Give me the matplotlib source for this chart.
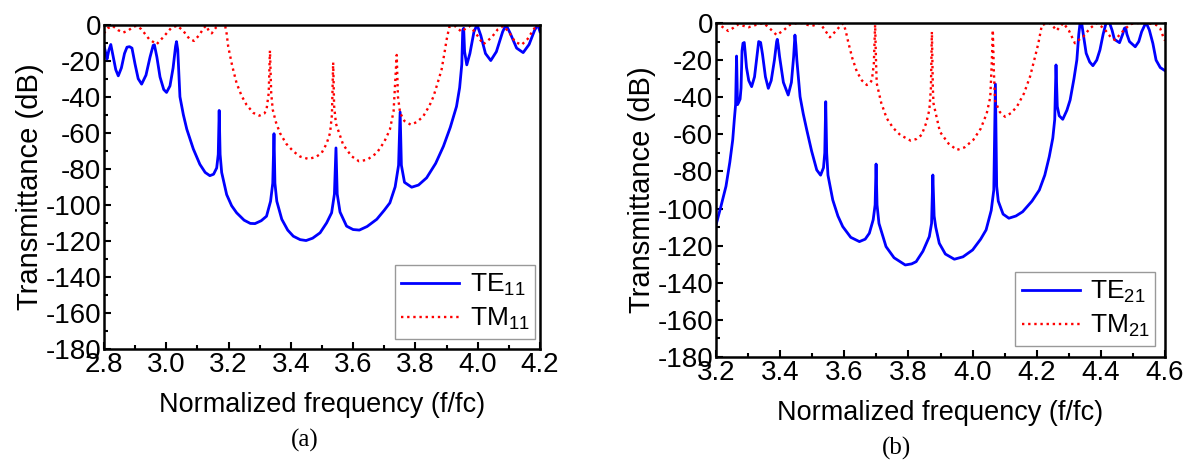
import numpy as np
from matplotlib import pyplot as plt
from matplotlib.ticker import MultipleLocator

# ---- (a) TE11 / TM11 ----
f_te11 = [2.800, 2.806, 2.810, 2.816, 2.822, 2.830, 2.838, 2.846, 2.856, 2.866,
          2.874, 2.882, 2.890, 2.900, 2.910, 2.921, 2.935, 2.948, 2.958, 2.962,
          2.970, 2.980, 2.992, 3.001, 3.012, 3.022, 3.030, 3.033, 3.037, 3.044,
          3.055, 3.066, 3.087, 3.108, 3.125, 3.140, 3.152, 3.162, 3.167, 3.170,
          3.173, 3.178, 3.194, 3.210, 3.226, 3.250, 3.270, 3.285, 3.305, 3.322,
          3.335, 3.342, 3.346, 3.349, 3.355, 3.371, 3.390, 3.408, 3.430, 3.449,
          3.470, 3.494, 3.515, 3.531, 3.540, 3.545, 3.549, 3.558, 3.579, 3.600,
          3.620, 3.645, 3.676, 3.700, 3.718, 3.735, 3.746, 3.751, 3.755, 3.765,
          3.788, 3.810, 3.836, 3.865, 3.890, 3.912, 3.932, 3.942, 3.949, 3.952,
          3.955, 3.958, 3.965, 3.975, 3.988, 3.998, 4.010, 4.025, 4.042, 4.060,
          4.080, 4.091, 4.105, 4.125, 4.146, 4.165, 4.183, 4.193, 4.200]
t_te11 = [-11.5, -16, -19, -14, -11, -18, -25, -28.4, -24, -16,
          -12.5, -12.2, -13, -22, -30, -33, -28, -18, -11.5, -11.2,
          -18, -29, -36, -37.6, -34, -24, -12, -9.4, -14, -40,
          -50, -58, -69, -77.5, -82, -83.8, -83, -79.5, -72, -47.6,
          -72, -82, -94.3, -100.5, -104.4, -108.5, -110.3, -110.4, -108.8, -106.3,
          -98, -88, -60.5, -88, -98, -108, -114, -117.4, -119.3, -119.8,
          -118.5, -115.5, -110, -104.4, -94, -68.4, -94, -104, -111.8, -113.7,
          -114, -112, -108, -103, -98.9, -90, -78, -48.5, -78, -87.5,
          -90.2, -89, -85, -77, -67.5, -57, -45.4, -35, -22, -3,
          -2, -15, -22.3, -16, -4, 0, -6, -16, -19.9, -15,
          -4, 0, -5, -13, -15.5, -11, -3, 0, -3.9]

f_tm11 = [2.800, 2.812, 2.828, 2.845, 2.862, 2.880, 2.895, 2.905, 2.920, 2.945,
          2.969, 2.990, 3.015, 3.035, 3.055, 3.075, 3.089, 3.105, 3.120, 3.128,
          3.137, 3.146, 3.160, 3.175, 3.189, 3.194, 3.199, 3.212, 3.226, 3.242,
          3.258, 3.280, 3.299, 3.315, 3.322, 3.329, 3.333, 3.337, 3.342, 3.352,
          3.365, 3.385, 3.408, 3.430, 3.456, 3.480, 3.499, 3.515, 3.526, 3.532,
          3.536, 3.539, 3.545, 3.568, 3.595, 3.619, 3.645, 3.676, 3.700, 3.718,
          3.730, 3.740, 3.744, 3.751, 3.765, 3.785, 3.805, 3.825, 3.845, 3.858,
          3.872, 3.884, 3.895, 3.900, 3.909, 3.927, 3.948, 3.962, 3.975, 3.995,
          4.018, 4.045, 4.065, 4.082, 4.100, 4.120, 4.141, 4.160, 4.178, 4.191,
          4.200]
t_tm11 = [-4.8, -2, -0.7, -3, -4.4, -3, -1, -0.7, -2.5, -8,
          -10.9, -7, -2, -0.5, -3.5, -8, -9, -6, -2, -0.5,
          -3.5, -4.8, -1.5, 0, -0.5, -5, -12.2, -23, -32.5, -39.5,
          -44.5, -49, -50.5, -49.3, -47.2, -38, -14.4, -38, -47.2, -54,
          -60.1, -66, -70.3, -73.2, -74.5, -73.5, -71.2, -66, -60.1, -50,
          -21, -45, -55, -66.6, -73, -75.8, -75, -71.2, -65, -58.3,
          -48, -16.8, -40, -49, -53.5, -55.5, -54, -50.9, -45, -39.9,
          -32, -25, -14, -8.5, -1.1, -0.7, -3.9, -2, -0.7, -5,
          -10.9, -7, -2.5, -0.7, -4, -9.5, -11.2, -8, -3, 0,
          -3]

# ---- (b) TE21 / TM21 ----
f_te21 = [3.200, 3.215, 3.231, 3.243, 3.252, 3.257, 3.261, 3.264, 3.267, 3.270,
          3.275, 3.278, 3.281, 3.284, 3.288, 3.291, 3.295, 3.302, 3.311, 3.320,
          3.328, 3.333, 3.339, 3.345, 3.354, 3.363, 3.372, 3.382, 3.389, 3.391,
          3.394, 3.398, 3.410, 3.425, 3.435, 3.442, 3.446, 3.449, 3.452, 3.462,
          3.472, 3.483, 3.498, 3.514, 3.526, 3.535, 3.539, 3.542, 3.545, 3.549,
          3.564, 3.580, 3.595, 3.620, 3.647, 3.665, 3.678, 3.690, 3.696, 3.699,
          3.702, 3.708, 3.730, 3.755, 3.790, 3.810, 3.824, 3.845, 3.865, 3.872,
          3.876, 3.880, 3.885, 3.896, 3.915, 3.943, 3.970, 4.000, 4.025, 4.042,
          4.058, 4.066, 4.071, 4.075, 4.080, 4.095, 4.113, 4.135, 4.156, 4.185,
          4.208, 4.225, 4.239, 4.250, 4.256, 4.260, 4.264, 4.270, 4.281, 4.294,
          4.304, 4.316, 4.325, 4.331, 4.335, 4.340, 4.345, 4.354, 4.365, 4.375,
          4.387, 4.397, 4.407, 4.416, 4.427, 4.435, 4.442, 4.458, 4.468, 4.473,
          4.477, 4.481, 4.489, 4.507, 4.518, 4.527, 4.537, 4.543, 4.551, 4.562,
          4.572, 4.585, 4.600]
t_te21 = [-108.8, -99, -88, -75, -63, -52, -44, -17.8, -44, -43,
          -41, -35, -15, -10.9, -10.5, -16, -24, -31, -34.3, -29,
          -17, -10, -10.5, -17, -29, -35.2, -31, -20, -10, -8.8,
          -12, -18, -32, -38.8, -32, -18, -6.5, -12, -20, -39.7,
          -49, -57.7, -69, -79.2, -82, -78, -70, -42.4, -70, -82,
          -95.4, -104, -109.7, -115.5, -117.8, -116.5, -113.3, -106, -98, -76,
          -98, -108, -120.5, -126.5, -130.4, -129.8, -128.6, -123, -115.1, -108,
          -81.9, -104, -110, -118.7, -124.5, -127.3, -126, -122.3, -116.5, -111.5,
          -101, -90, -32.9, -88, -96, -103, -105.2, -104, -101.7, -96,
          -90, -82, -72, -62, -52, -22.6, -45, -50, -51.9, -47,
          -41.5, -30, -19.9, -6, 0, 0, -6, -16.3, -21, -23,
          -20, -14.5, -6, 0, 0, -4, -8.8, -10.6, -6, -2.9,
          -2.5, -6, -10, -12.8, -10, -4.7, -1, -0.6, -3.8, -11,
          -20, -24, -25.7]

f_tm21 = [3.200, 3.215, 3.238, 3.255, 3.270, 3.285, 3.301, 3.325, 3.348, 3.368,
          3.389, 3.410, 3.430, 3.452, 3.470, 3.485, 3.498, 3.510, 3.524, 3.540,
          3.555, 3.575, 3.590, 3.597, 3.604, 3.613, 3.625, 3.639, 3.655, 3.670,
          3.680, 3.686, 3.692, 3.696, 3.699, 3.701, 3.715, 3.732, 3.752, 3.774,
          3.807, 3.825, 3.841, 3.855, 3.865, 3.870, 3.873, 3.876, 3.878, 3.898,
          3.925, 3.951, 3.975, 4.002, 4.025, 4.044, 4.055, 4.060, 4.063, 4.066,
          4.070, 4.085, 4.101, 4.120, 4.138, 4.160, 4.179, 4.195, 4.205, 4.216,
          4.228, 4.241, 4.252, 4.262, 4.272, 4.283, 4.300, 4.319, 4.332, 4.345,
          4.365, 4.387, 4.410, 4.430, 4.444, 4.465, 4.491, 4.515, 4.543, 4.572,
          4.585, 4.596, 4.600]
t_tm21 = [-0.3, -1.5, -4.3, -2.5, -0.7, -1.5, -2.3, -1, 0, -3,
          -6.5, -4, -1, 0, 0, -1, -1.6, -1, 0, -4,
          -7.7, -4, -1, -0.2, -4, -10.9, -19, -26.2, -31, -33.4,
          -32.5, -30.7, -22, -1, -22, -32.5, -43, -51.3, -56.5, -60.3,
          -63.4, -62.5, -60.3, -54, -46.9, -35, -4.7, -35, -43.3, -58.6,
          -65, -68.4, -67, -63, -57, -48.7, -40, -20, -3.8, -25,
          -42, -48, -50.5, -48.5, -45.1, -38, -28.9, -18, -10.9, -1,
          -0.5, 0, -2, -4.1, -2, 0, -4, -10.9, -9, -7.4,
          -3, 0, -3, -7.5, -9.2, -5, -0.6, 0, 0, -1,
          -3, -8.2, -9.5]

plt.rcParams['font.family'] = ['Liberation Sans', 'DejaVu Sans']
plt.rcParams['mathtext.default'] = 'regular'
plt.rcParams['axes.unicode_minus'] = False

fig = plt.figure(figsize=(11.92, 4.63), dpi=100)
ax_a = fig.add_axes([0.0872, 0.2462, 0.3658, 0.7005])
ax_b = fig.add_axes([0.6007, 0.2289, 0.3767, 0.7214])

panels = [
    (ax_a, f_te11, t_te11, f_tm11, t_tm11, '11', (2.8, 4.2), (0.667, 0.031, 0.322, 0.222)),
    (ax_b, f_te21, t_te21, f_tm21, t_tm21, '21', (3.2, 4.6), (0.666, 0.033, 0.312, 0.251)),
]

for ax, fte, tte, ftm, ttm, mode, xr, lbox in panels:
    ax.plot(fte, tte, color='#0000ff', lw=2.0, label='TE$_{%s}$' % mode)
    ax.plot(ftm, ttm, color='#ff0000', lw=1.7, linestyle=(0, (1, 1.6)),
            label='TM$_{%s}$' % mode)
    ax.set_xlim(*xr)
    ax.set_ylim(-180, 0)
    ax.xaxis.set_major_locator(MultipleLocator(0.2))
    ax.xaxis.set_minor_locator(MultipleLocator(0.1))
    ax.yaxis.set_major_locator(MultipleLocator(20))
    ax.yaxis.set_minor_locator(MultipleLocator(10))
    ax.xaxis.set_major_formatter(plt.FormatStrFormatter('%.1f'))
    ax.tick_params(which='both', direction='in', top=False, right=False,
                   labelsize=20, width=1.5, pad=2)
    ax.tick_params(which='major', length=5)
    ax.tick_params(which='minor', length=3)
    for sp in ax.spines.values():
        sp.set_linewidth(1.8)
    ax.set_xlabel('Normalized frequency (f/fc)', fontsize=19.5, labelpad=10)
    ax.set_ylabel('Transmittance (dB)', fontsize=21, labelpad=1)
    leg = ax.legend(loc='lower left', bbox_to_anchor=lbox, mode='expand',
                    fontsize=19, frameon=True, fancybox=False,
                    handlelength=2.2, borderaxespad=0, labelspacing=0.3,
                    handletextpad=0.4, borderpad=0.25)
    leg.get_frame().set_edgecolor('#808080')
    leg.get_frame().set_linewidth(1.0)

fig.text(0.256, 0.048, '(a)', ha='center', va='center', fontsize=18,
         family=['Liberation Serif'])
fig.text(0.752, 0.032, '(b)', ha='center', va='center', fontsize=18,
         family=['Liberation Serif'])

fig.savefig('out.png', dpi=100)
